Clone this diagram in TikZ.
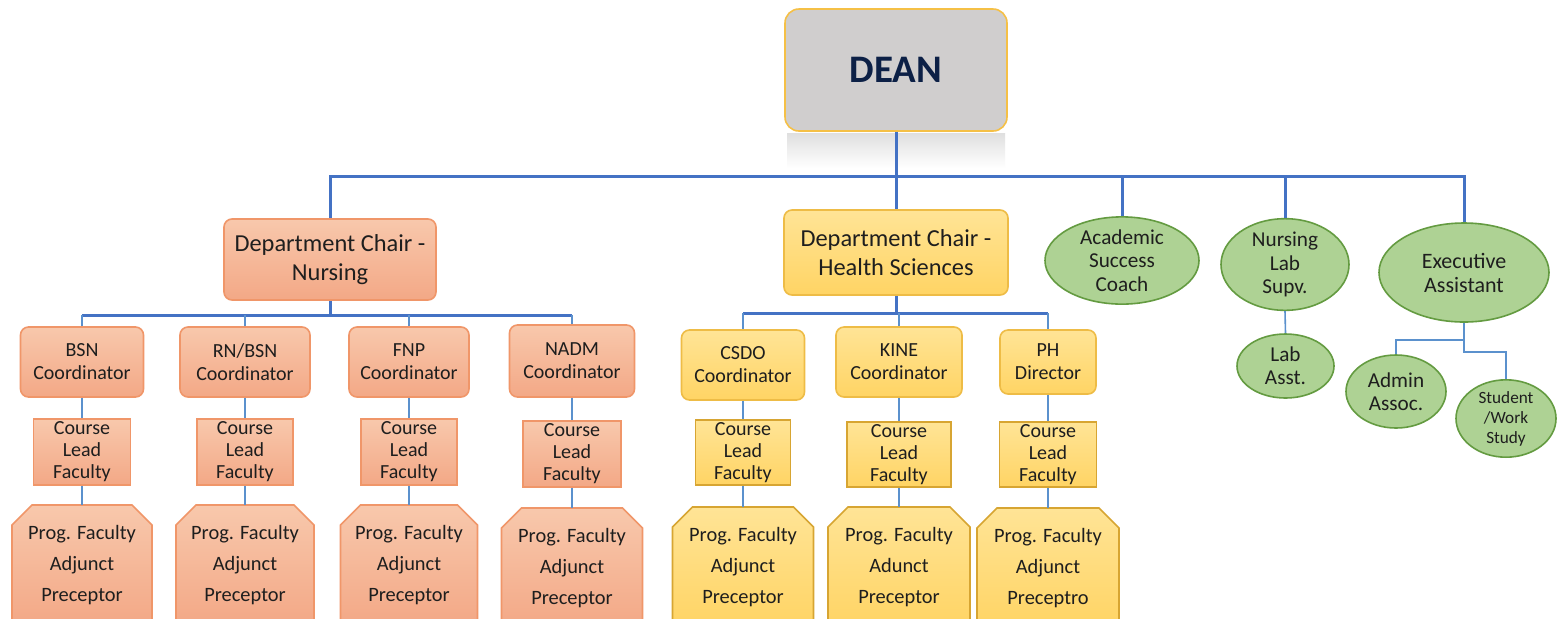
\documentclass[tikz,border=0pt]{standalone}
\usepackage{fontspec}
\setmainfont{Carlito}
\usetikzlibrary{shapes.geometric}
\definecolor{txt}{RGB}{30,30,30}
\definecolor{deanTxt}{RGB}{12,32,70}
\definecolor{deanFill}{RGB}{208,206,206}
\definecolor{deanLine}{RGB}{245,192,70}
\definecolor{nTop}{RGB}{248,200,172}
\definecolor{nBot}{RGB}{243,168,134}
\definecolor{nLine}{RGB}{240,150,105}
\definecolor{hTop}{RGB}{255,228,150}
\definecolor{hBot}{RGB}{255,212,100}
\definecolor{hLine}{RGB}{238,188,70}
\definecolor{hLine2}{RGB}{215,165,50}
\definecolor{gFill}{RGB}{174,210,148}
\definecolor{gLine}{RGB}{100,155,65}
\definecolor{busC}{RGB}{68,114,196}
\definecolor{linkC}{RGB}{91,145,205}
\newcommand{\fchair}{\fontsize{12.2}{14.5}\selectfont}
\newcommand{\fcoord}{\fontsize{10}{11.5}\selectfont}
\newcommand{\flead}{\fontsize{10}{11}\selectfont}
\newcommand{\fprog}{\fontsize{10.2}{15.5}\selectfont}
\newcommand{\fell}{\fontsize{10.6}{11.7}\selectfont}
\newcommand{\fsmall}{\fontsize{8.6}{10}\selectfont}
% #1 name, #2 x, #3 y, #4 width (px), #5 outline style, #6 text
\newcommand{\progbox}[6]{%
  \path[#5] ({#2-#4/2},{#3+60}) -- ({#2-#4/2},{#3-40}) -- ({#2-#4/2+20},{#3-60})
     -- ({#2+#4/2-20},{#3-60}) -- ({#2+#4/2},{#3-40}) -- ({#2+#4/2},{#3+60}) -- cycle;
  \node[base, font=\fprog, minimum width={#4*0.5pt}, minimum height=60pt] (#1) at (#2,#3) {#6};
}
\begin{document}
\begin{tikzpicture}[x=0.5pt,y=-0.5pt,
  base/.style={align=center, text=txt, inner sep=0pt},
  deanbox/.style={base, draw=deanLine, fill=deanFill, line width=0.8pt, rounded corners=7pt,
    text=deanTxt, font=\fontsize{19.5}{22}\selectfont\bfseries},
  nbox/.style={base, draw=nLine, line width=0.8pt, top color=nTop, bottom color=nBot, rounded corners=4pt},
  hbox/.style={base, draw=hLine, line width=0.8pt, top color=hTop, bottom color=hBot, rounded corners=4pt},
  nlead/.style={base, draw=nLine, line width=0.8pt, top color=nTop, bottom color=nBot, font=\flead},
  hlead/.style={base, draw=hLine2, line width=0.8pt, top color=hTop, bottom color=hBot, font=\flead},
  nshape/.style={draw=nLine, line width=0.8pt, top color=nTop, bottom color=nBot},
  hshape/.style={draw=hLine2, line width=0.8pt, top color=hTop, bottom color=hBot},
  gell/.style={base, ellipse, draw=gLine, fill=gFill, line width=0.8pt, font=\fell},
  bus/.style={draw=busC, line width=1.5pt},
  link/.style={draw=linkC, line width=1.2pt},
  thinlink/.style={draw=linkC, line width=0.8pt}
]
\useasboundingbox (0,0) rectangle (1564,618);
\clip (0,0) rectangle (1564,618);
\fill[white] (0,0) rectangle (1564,618);

% reflection under the dean box
\shade[top color=gray!25, bottom color=white] (787,133) rectangle (1005,168);

% top level
\node[deanbox, minimum width=111pt, minimum height=61pt] (dean) at (896,70) {DEAN};
\node[nbox, font=\fchair, minimum width=106pt, minimum height=40.5pt] (chairN) at (330,259.5) {Department Chair -\\Nursing};
\node[hbox, font=\fchair, minimum width=112pt, minimum height=42.5pt] (chairH) at (896,252.5) {Department Chair -\\Health Sciences};

\node[gell, minimum width=77pt, minimum height=42.5pt] (acad) at (1122,260.5) {Academic\\Success\\Coach};
\node[gell, minimum width=64pt, minimum height=42.5pt] (nlab) at (1285,264.5) {Nursing\\Lab\\Supv.};
\node[gell, font=\fontsize{11}{12}\selectfont, minimum width=85pt, minimum height=49.5pt] (exec) at (1464,272.5) {Executive\\Assistant};
\node[gell, minimum width=48.5pt, minimum height=32pt] (labA) at (1285.5,366) {Lab\\Asst.};
\node[gell, minimum width=50pt, minimum height=36.5pt] (admin) at (1396,391.5) {Admin\\Assoc.};
\node[gell, font=\fsmall, minimum width=50pt, minimum height=36.5pt] (stud) at (1506,418.5) {Student\\/Work\\Study};

% nursing coordinators
\node[nbox, font=\fcoord, minimum width=61.5pt, minimum height=35pt] (bsn) at (82,362) {BSN\\Coordinator};
\node[nbox, font=\fcoord, minimum width=65pt, minimum height=35pt] (rn) at (245,362) {RN/BSN\\Coordinator};
\node[nbox, font=\fcoord, minimum width=60pt, minimum height=35pt] (fnp) at (409,362) {FNP\\Coordinator};
\node[nbox, font=\fcoord, minimum width=62.5pt, minimum height=36pt] (nadm) at (572,361) {NADM\\Coordinator};

% health sciences coordinators
\node[hbox, font=\fcoord, minimum width=61.5pt, minimum height=35pt] (csdo) at (743,365) {CSDO\\Coordinator};
\node[hbox, font=\fcoord, minimum width=63pt, minimum height=35pt] (kine) at (899,362) {KINE\\Coordinator};
\node[hbox, font=\fcoord, minimum width=48pt, minimum height=32pt] (ph) at (1048,362) {PH\\Director};

% course lead
\node[nlead, minimum width=48.5pt, minimum height=33pt] (bsnL) at (82,452) {Course\\Lead\\Faculty};
\node[nlead, minimum width=48pt, minimum height=33pt] (rnL) at (245,452) {Course\\Lead\\Faculty};
\node[nlead, minimum width=48pt, minimum height=33pt] (fnpL) at (409,452) {Course\\Lead\\Faculty};
\node[nlead, minimum width=49pt, minimum height=33pt] (nadmL) at (572,454) {Course\\Lead\\Faculty};
\node[hlead, minimum width=47.5pt, minimum height=32.5pt] (csdoL) at (743,452.5) {Course\\Lead\\Faculty};
\node[hlead, minimum width=52pt, minimum height=32.5pt] (kineL) at (899,454.5) {Course\\Lead\\Faculty};
\node[hlead, minimum width=48.5pt, minimum height=32.5pt] (phL) at (1048,454.5) {Course\\Lead\\Faculty};

% programme faculty
\progbox{bsnP}{82}{565}{140}{nshape}{Prog. Faculty\\Adjunct\\Preceptor}
\progbox{rnP}{245}{565}{138}{nshape}{Prog. Faculty\\Adjunct\\Preceptor}
\progbox{fnpP}{409}{565}{137}{nshape}{Prog. Faculty\\Adjunct\\Preceptor}
\progbox{nadmP}{572}{568}{141}{nshape}{Prog. Faculty\\Adjunct\\Preceptor}
\progbox{csdoP}{743}{567}{141}{hshape}{Prog. Faculty\\Adjunct\\Preceptor}
\progbox{kineP}{899}{567}{142}{hshape}{Prog. Faculty\\Adunct\\Preceptor}
\progbox{phP}{1048}{568}{142}{hshape}{Prog. Faculty\\Adjunct\\Preceptro}

% connectors: top bus
\coordinate (busT) at (0,176);
\draw[bus] (dean.south) -- (chairH.north);
\draw[bus] (chairN.north) -- (chairN.north|-busT) -- (exec.north|-busT) -- (exec.north);
\draw[bus] (acad.north) -- (acad.north|-busT);
\draw[bus] (nlab.north) -- (nlab.north|-busT);

% nursing bus
\coordinate (busN) at (0,315);
\draw[bus] (chairN.south) -- (chairN.south|-busN);
\draw[bus] (bsn.north|-busN) -- (nadm.north|-busN);
\foreach \n in {bsn,rn,fnp,nadm}{
  \draw[link] (\n.north) -- (\n.north|-busN);
  \draw[link] (\n.south) -- (\n L.north);
  \draw[link] (\n L.south) -- (\n P.north);
}

% health sciences bus
\coordinate (busH) at (0,313);
\draw[bus] (chairH.south) -- (chairH.south|-busH);
\draw[bus] (csdo.north|-busH) -- (ph.north|-busH);
\foreach \n in {csdo,kine,ph}{
  \draw[link] (\n.north) -- (\n.north|-busH);
  \draw[link] (\n.south) -- (\n L.north);
  \draw[link] (\n L.south) -- (\n P.north);
}

% staff
\draw[thinlink] (nlab.south) -- (labA.north);
\coordinate (j1) at (1464,340);
\coordinate (j2) at (1464,352);
\draw[thinlink] (exec.south) -- (j2) -| (stud.north);
\draw[thinlink] (j1) -| (admin.north);
\end{tikzpicture}
\end{document}
